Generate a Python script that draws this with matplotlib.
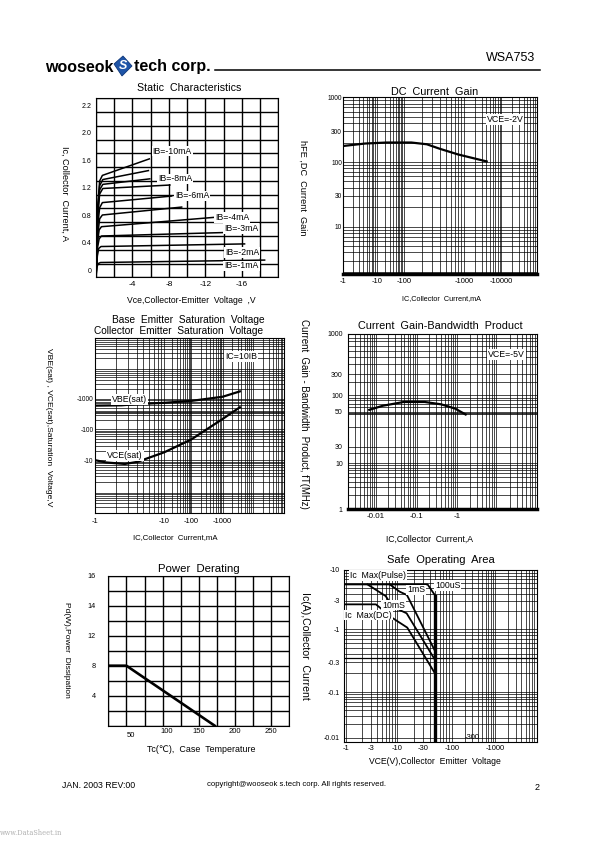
import numpy as np
import matplotlib
matplotlib.use('Agg')
import matplotlib.pyplot as plt
from matplotlib.transforms import ScaledTranslation
from matplotlib.ticker import NullFormatter
from matplotlib.patches import Polygon

plt.rcParams['font.family'] = ['Liberation Sans', 'DejaVu Sans']
plt.rcParams['axes.unicode_minus'] = False

# ==========================================
# Data
# ==========================================

# Static characteristics : Vce (V), Ic (A), one curve per base current
static_vce = [
    [0, -0.2, -0.4, -0.7, -5.85],
    [0, -0.2, -0.4, -0.75, -5.75],
    [0, -0.2, -0.4, -0.75, -5.9],
    [0, -0.2, -0.4, -0.75, -8.1],
    [0, -0.2, -0.4, -0.7, -8.3],
    [0, -0.2, -0.4, -0.7, -9.4],
    [0, -0.15, -0.35, -0.6, -12.9],
    [0, -0.15, -0.35, -0.6, -14.0],
    [0, -0.15, -0.3, -0.55, -16.3],
    [0, -0.1, -0.25, -0.5, -18.5],
]
static_ic = [
    [0, 1.05, 1.40, 1.48, 1.72],
    [0, 1.00, 1.33, 1.42, 1.55],
    [0, 0.95, 1.27, 1.35, 1.43],
    [0, 0.90, 1.21, 1.29, 1.34],
    [0, 0.76, 1.01, 1.085, 1.18],
    [0, 0.63, 0.85, 0.905, 1.02],
    [0, 0.50, 0.69, 0.735, 0.87],
    [0, 0.42, 0.56, 0.60, 0.65],
    [0, 0.31, 0.42, 0.447, 0.485],
    [0, 0.15, 0.20, 0.215, 0.25],
]
ib_labels = ['IB=-10mA', 'IB=-8mA', 'IB=-6mA', 'IB=-4mA', 'IB=-3mA', 'IB=-2mA', 'IB=-1mA']

# DC current gain : |Ic| (mA), hFE
hfe_ic = [1, 4.5, 23, 134, 242, 390, 794, 4070]
hfe = [177, 193, 200, 200, 188, 161, 131, 102]

# Saturation voltages : |Ic| (mA), |V| (mV)
vbe_ic = [1, 2.4, 4.1, 10, 100, 1000, 3550]
vbe_sat = [590, 605, 664, 729, 841, 1145, 1710]
vce_ic = [1, 1.45, 2.7, 4.1, 10, 100, 1000, 3550]
vce_sat = [10.1, 8.5, 7.6, 8.9, 18.2, 47, 218, 523]

# Gain-bandwidth product : |Ic| (A), fT (MHz)
ft_ic = [0.0068, 0.0145, 0.048, 0.157, 0.40, 0.88, 1.6]
ft_mhz = [54, 64, 75, 75, 68, 57, 48]

# Power derating : Tc (C), Pd (W)
tc = [25, 50, 172]
pd_w = [8, 8, 0]

# Safe operating area : |Vce| (V), |Ic| (A)
pulse_vce = [0.9, 36, 50]
pulse_ic = [5.7, 5.7, 3.65]
limit_vce = [50, 50]
limit_ic = [3.65, 0.005]
ms1_vce = [7.1, 11, 15, 50]
ms1_ic = [5.7, 4.3, 3.77, 0.44]
ms10_vce = [2.6, 5.9, 8.1, 14.8, 50]
ms10_ic = [5.7, 3.62, 2.39, 1.85, 0.32]
dc_vce = [0.9, 3.8, 8.1, 15.2, 50]
dc_ic = [2.62, 2.62, 1.53, 1.06, 0.195]

# ==========================================
# Helpers
# ==========================================
W, H = 595.0, 842.0
fig = plt.figure(figsize=(W / 100, H / 100), dpi=100)


def box(l, t, r, b):
    # page pixels -> figure fraction
    return [l / W, 1 - b / H, (r - l) / W, (b - t) / H]


def ftext(x, y, s, size, **kw):
    kw.setdefault('ha', 'center')
    kw.setdefault('va', 'center')
    return fig.text(x / W, 1 - y / H, s, fontsize=size, **kw)


def knot_scale(vals, fracs):
    # log axis whose decades are not evenly spaced (as drawn on the sheet)
    dec = np.log10(np.asarray(vals, float))
    frac = np.asarray(fracs, float)

    def fwd(v):
        v = np.clip(np.asarray(v, float), 1e-12, None)
        return np.interp(np.log10(v), dec, frac)

    def inv(f):
        return 10.0 ** np.interp(np.asarray(f, float), frac, dec)
    return fwd, inv


def decade_minors(d0, d1):
    return [m * 10.0 ** d for d in range(d0, d1) for m in range(2, 10)]


def style(ax, xsize=5.5, ysize=5, xpad=2.5, ypad=2, grid_lw=0.5):
    ax.grid(which='both', color='k', lw=grid_lw)
    ax.set_axisbelow(True)
    ax.tick_params(which='both', length=0)
    ax.tick_params(axis='x', labelsize=xsize, pad=xpad)
    ax.tick_params(axis='y', labelsize=ysize, pad=ypad)
    ax.xaxis.set_minor_formatter(NullFormatter())
    ax.yaxis.set_minor_formatter(NullFormatter())
    for s in ax.spines.values():
        s.set_linewidth(0.8)


def shift(label, dx, dy):
    label.set_transform(label.get_transform()
                        + ScaledTranslation(dx / 100, -dy / 100, fig.dpi_scale_trans))


white = dict(facecolor='white', edgecolor='none', pad=0.6)

# ==========================================
# En-tete / pied de page
# ==========================================
ftext(45, 67, 'wooseok', 11.5, ha='left', weight='bold')
fig.patches.append(Polygon([(114 / W, 1 - 64 / H), (123 / W, 1 - 56 / H),
                            (132 / W, 1 - 66 / H), (122 / W, 1 - 76 / H)],
                           closed=True, transform=fig.transFigure,
                           facecolor='#1f55a8', edgecolor='#0d3577', lw=0.6))
ftext(123, 66, 'S', 9, color='white', weight='bold', style='italic')
ftext(134, 67, 'tech corp.', 11.5, ha='left', weight='bold')
fig.add_artist(plt.Line2D([215 / W, 540 / W], [1 - 70 / H, 1 - 70 / H],
                          color='k', lw=1.1, transform=fig.transFigure))
ftext(535, 58, 'WSA753', 9, ha='right')

ftext(62, 785, 'JAN. 2003 REV:00', 6.3, ha='left')
ftext(207, 784, 'copyright@wooseok s.tech corp. All rights reserved.', 5.6, ha='left')
ftext(537, 787, '2', 6.5)
ftext(0, 833, 'www.DataSheet.in', 4.8, ha='left', color='#b0b0b0', family='DejaVu Serif')

# ==========================================
# 1. Static Characteristics
# ==========================================
ax1 = fig.add_axes(box(96, 98.3, 278.3, 277.3))
for v, c in zip(static_vce, static_ic):
    ax1.plot(v, c, color='k', lw=1.1, solid_joinstyle='round')
ax1.set_xlim(0, -20)
ax1.set_ylim(0, 2.6)
ax1.set_xticks(np.arange(0, -20.1, -2), minor=True)
ax1.set_xticks([-4, -8, -12, -16], ['-4', '-8', '-12', '-16'])
ax1.set_yticks(np.arange(0, 2.61, 0.2), minor=True)
ax1.set_yticks([0, 0.4, 0.8, 1.2, 1.6, 2.0, 2.4],
               ['0', '0.4', '0.8', '1.2', '1.6', '2.0', '2.2'])
style(ax1, xsize=6, ysize=5, xpad=2.5, ypad=3.5, grid_lw=1.0)
for lab in ax1.get_yticklabels():
    shift(lab, 0, -7)

ib_pos = [(152.7, 151), (158.3, 179), (175, 196), (215, 217.3),
          (224.3, 228.3), (225, 252.7), (224.3, 266)]
for s, (x, y) in zip(ib_labels, ib_pos):
    ftext(x, y, s, 6.3, ha='left', bbox=white)
ftext(189.5, 88.3, 'Static  Characteristics', 7.7)
ftext(191, 300, 'Vce,Collector-Emitter  Voltage  ,V', 6.2)
ftext(65, 193, 'Ic, Collector  Current, A', 6.6, rotation=270)

# ==========================================
# 2. DC Current Gain
# ==========================================
ax2 = fig.add_axes(box(343.3, 97.3, 536.7, 274))
fw, iv = knot_scale([0.1, 1, 10, 100, 1000, 1e4, 1e5],
                    [-0.186, 0, 0.186, 0.336, 0.672, 0.879, 1.086])
ax2.set_xscale('function', functions=(fw, iv))
ax2.set_xlim(iv(0.0), iv(1.0))
ax2.set_yscale('log')
ax2.set_ylim(1.86, 1000)
ax2.plot(hfe_ic, hfe, color='k', lw=1.6)
ax2.set_xticks(decade_minors(0, 5), minor=True)
ax2.set_xticks([1, 10, 100, 1000, 10000], ['-1', '-10', '-100', '-1000', '-10000'])
ax2.set_yticks(decade_minors(0, 3), minor=True)
ax2.set_yticks([10, 30, 100, 300, 1000], ['10', '30', '100', '300', '1000'])
style(ax2, xsize=5.5, ysize=4.8, xpad=3, ypad=1)
ax2.spines['bottom'].set_linewidth(2.5)
ftext(486.7, 119.3, 'VCE=-2V', 6.3, ha='left', bbox=white)
ftext(434.7, 91.7, 'DC  Current  Gain', 7.8)
ftext(441.7, 298.3, 'IC,Collector  Current,mA', 5.2)
ftext(303, 187.5, 'hFE ,DC  Current  Gain', 6.6, rotation=270)

# ==========================================
# 3. Saturation voltages
# ==========================================
ax3 = fig.add_axes(box(95, 338.3, 284, 512.7))
fw, iv = knot_scale([0.1, 1, 10, 100, 1000, 1e5],
                    [-0.388, 0, 0.388, 0.538, 0.714, 1.066])
ax3.set_xscale('function', functions=(fw, iv))
ax3.set_xlim(iv(0.0), iv(1.0))
ax3.set_yscale('log')
ax3.set_ylim(0.34, 81000)
ax3.plot(vbe_ic, vbe_sat, color='k', lw=1.6)
ax3.plot(vce_ic, vce_sat, color='k', lw=1.6)
ax3.axhline(350, color='k', lw=1.1)
ax3.set_xticks(decade_minors(0, 5), minor=True)
ax3.set_xticks([1, 10, 100, 1000], ['-1', '-10', '-100', '-1000'])
ax3.set_yticks(decade_minors(-1, 5), minor=True)
ax3.set_yticks([10, 100, 1000], ['-10', '-100', '-1000'])
style(ax3, xsize=5.5, ysize=4.8, xpad=3.5, ypad=1)
ftext(112, 399.3, 'VBE(sat)', 6.3, ha='left', bbox=white)
ftext(107, 455.7, 'VCE(sat)', 6.3, ha='left', bbox=white)
ftext(225, 356.7, 'IC=10IB', 6.3, ha='left', bbox=white)
ftext(188.3, 320, 'Base  Emitter  Saturation  Voltage', 7.3)
ftext(178.5, 330.7, 'Collector  Emitter  Saturation  Voltage', 7.3)
ftext(175, 538, 'IC,Collector  Current,mA', 5.6)
ftext(48.3, 426.7, 'VBE(sat) , VCE(sat),Saturation  Voltage,V', 6.1, rotation=270)

# ==========================================
# 4. Current Gain-Bandwidth Product
# ==========================================
ax4 = fig.add_axes(box(347.7, 334, 536.7, 509))
ax4.set_xscale('log')
ax4.set_xlim(0.0068, 12.4)
fw, iv = knot_scale([0.1, 1, 10, 30, 50, 100, 300, 1000, 10000],
                    [-0.261, 0, 0.261, 0.356, 0.556, 0.651, 0.771, 1.0, 1.229])
ax4.set_yscale('function', functions=(fw, iv))
ax4.set_ylim(1, 1000)
ax4.plot(ft_ic, ft_mhz, color='k', lw=1.6)
ax4.axhline(48, color='k', lw=1.1)
ax4.set_xticks(decade_minors(-3, 2), minor=True)
ax4.set_xticks([0.01, 0.1, 1], ['-0.01', '-0.1', '-1'])
ax4.set_yticks(decade_minors(0, 3), minor=True)
ax4.set_yticks([1, 10, 30, 50, 100, 300, 1000],
               ['1', '10', '30', '50', '100', '300', '1000'])
style(ax4, xsize=5.8, ysize=5, xpad=3, ypad=3.5)
ax4.spines['bottom'].set_linewidth(2.5)
ftext(488, 354.3, 'VCE=-5V', 6.3, ha='left', bbox=white)
ftext(440.5, 325.7, 'Current  Gain-Bandwidth  Product', 7.8)
ftext(429, 539.3, 'IC,Collector  Current,A', 6.2)
ftext(304, 414, 'Current  Gain - Bandwidth  Product, fT(MHz)', 6.9, rotation=270)

# ==========================================
# 5. Power Derating
# ==========================================
ax5 = fig.add_axes(box(108.3, 575.7, 289.3, 725.7))
ax5.plot(tc, pd_w, color='k', lw=1.9)
ax5.set_xlim(25, 275)
ax5.set_ylim(0, 20)
ax5.set_xticks(np.arange(25, 276, 25), minor=True)
ax5.set_xticks([50, 100, 150, 200, 250], ['50', '100', '150', '200', '250'])
ax5.set_yticks(np.arange(0, 20.1, 2), minor=True)
ax5.set_yticks([4, 8, 12, 16, 20], ['4', '8', '12', '14', '16'])
style(ax5, xsize=5.5, ysize=5.2, xpad=2, ypad=9, grid_lw=1.0)
xl = ax5.get_xticklabels()
shift(xl[0], 5, 4)
shift(xl[1], 4, 0)
ftext(199.3, 569, 'Power  Derating', 8.2)
ftext(201, 749, 'Tc(\u2103),  Case  Temperature', 6.4)
ftext(66.7, 650, 'Pd(W),Power  Dissipation', 6.0, rotation=270)

# ==========================================
# 6. Safe Operating Area
# ==========================================
ax6 = fig.add_axes(box(344.3, 570, 536.7, 741.7))
fw, iv = knot_scale([0.1, 1, 10, 100, 1000, 10000],
                    [-0.302, 0.0125, 0.327, 0.662, 0.930, 1.198])
ax6.set_xscale('function', functions=(fw, iv))
ax6.set_xlim(iv(0.0), iv(1.0))
fw, iv = knot_scale([0.001, 0.01, 0.1, 1, 10, 100],
                    [-0.241, 0.023, 0.287, 0.656, 1.0, 1.344])
ax6.set_yscale('function', functions=(fw, iv))
ax6.set_ylim(iv(0.0), 10)
ax6.axhline(0.35, color='k', lw=0.9)
ax6.plot(pulse_vce, pulse_ic, color='k', lw=1.3)
ax6.plot(limit_vce, limit_ic, color='k', lw=2.4)
ax6.plot(ms1_vce, ms1_ic, color='k', lw=1.3)
ax6.plot(ms10_vce, ms10_ic, color='k', lw=1.3)
ax6.plot(dc_vce, dc_ic, color='k', lw=1.3)
ax6.set_xticks(decade_minors(0, 4), minor=True)
ax6.set_xticks([1, 3, 10, 30, 100, 300, 1000],
               ['-1', '-3', '-10', '-30', '-100', '-300', '-1000'])
ax6.set_yticks(decade_minors(-2, 1), minor=True)
ax6.set_yticks([0.01, 0.1, 0.3, 1, 3, 10], ['-0.01', '-0.1', '-0.3', '-1', '-3', '-10'])
style(ax6, xsize=5.5, ysize=5, xpad=2.5, ypad=3)
shift(ax6.get_xticklabels()[5], 0, -11)
ftext(350, 575.5, 'Ic  Max(Pulse)', 6.3, ha='left', bbox=white)
ftext(407, 590, '1mS', 6.3, ha='left', bbox=white)
ftext(435, 585.7, '100uS', 6.3, ha='left', bbox=white)
ftext(382, 605, '10mS', 6.3, ha='left', bbox=white)
ftext(345, 615, 'Ic  Max(DC)', 6.3, ha='left', bbox=white)
ftext(440.8, 560, 'Safe  Operating  Area', 8.0)
ftext(435, 761, 'VCE(V),Collector  Emitter  Voltage', 6.2)
ftext(305, 645.7, 'Ic(A),Collector  Current', 7.6, rotation=270)

fig.savefig('out.png', dpi=100)
plt.close('all')
